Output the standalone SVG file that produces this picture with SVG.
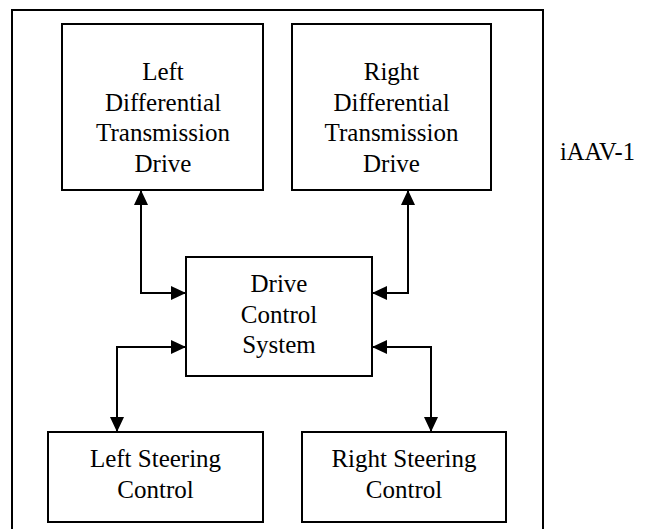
<svg xmlns="http://www.w3.org/2000/svg" width="649" height="529" viewBox="0 0 649 529">
  <style>
    .box { fill: #ffffff; stroke: #000000; stroke-width: 2; }
    .frame { fill: none; stroke: #000000; stroke-width: 2; }
    .link { fill: none; stroke: #000000; stroke-width: 2; marker-start: url(#head); marker-end: url(#head); }
    .label { font-family: "Liberation Serif", "Times New Roman", serif; font-size: 25px; fill: #000000; text-anchor: middle; }
    .tag { font-family: "Liberation Serif", "Times New Roman", serif; font-size: 24.5px; fill: #000000; }
  </style>
  <defs>
    <marker id="head" viewBox="0 0 15 14" refX="15" refY="7" markerWidth="15" markerHeight="14" markerUnits="userSpaceOnUse" orient="auto-start-reverse">
      <path d="M0,0 L15,7 L0,14 Z" fill="#000000"/>
    </marker>
  </defs>

  <rect x="0" y="0" width="649" height="529" fill="#ffffff"/>

  <!-- vehicle boundary -->
  <g id="vehicle">
    <path class="frame" d="M12,535 V10 H543 V535"/>
    <text class="tag" x="560" y="160">iAAV-1</text>
  </g>

  <g id="left-drive">
    <rect class="box" x="62" y="24" width="201" height="166"/>
    <text class="label" x="163" y="80">Left</text>
    <text class="label" x="163" y="110.5">Differential</text>
    <text class="label" x="163" y="141">Transmission</text>
    <text class="label" x="163" y="171.5">Drive</text>
  </g>

  <g id="right-drive">
    <rect class="box" x="292" y="24" width="199" height="166"/>
    <text class="label" x="391.5" y="80">Right</text>
    <text class="label" x="391.5" y="110.5">Differential</text>
    <text class="label" x="391.5" y="141">Transmission</text>
    <text class="label" x="391.5" y="171.5">Drive</text>
  </g>

  <g id="drive-control">
    <rect class="box" x="186" y="257" width="186" height="119"/>
    <text class="label" x="279" y="292">Drive</text>
    <text class="label" x="279" y="322.5">Control</text>
    <text class="label" x="279" y="353">System</text>
  </g>

  <g id="left-steering">
    <rect class="box" x="48" y="432" width="215" height="90"/>
    <text class="label" x="155.5" y="467">Left Steering</text>
    <text class="label" x="155.5" y="497.5">Control</text>
  </g>

  <g id="right-steering">
    <rect class="box" x="302" y="432" width="204" height="90"/>
    <text class="label" x="404" y="467">Right Steering</text>
    <text class="label" x="404" y="497.5">Control</text>
  </g>

  <g id="connectors">
    <path class="link" d="M141,190 V293 H186"/>
    <path class="link" d="M408,190 V293 H372"/>
    <path class="link" d="M186,347 H117 V432"/>
    <path class="link" d="M372,347 H431 V432"/>
  </g>
</svg>
